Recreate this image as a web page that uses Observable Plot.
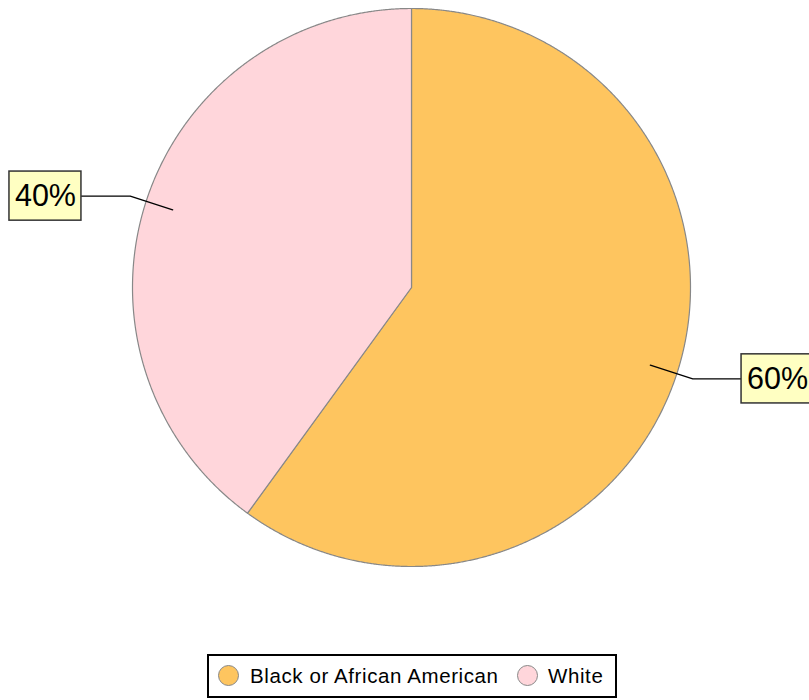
<!DOCTYPE html>
<html><head><meta charset="utf-8">
<script src="https://cdn.jsdelivr.net/npm/d3@7"></script>
<script src="https://cdn.jsdelivr.net/npm/@observablehq/plot@0.6"></script>
<style>
html,body{margin:0;padding:0;background:#fff;overflow:hidden;font-family:"Liberation Sans",Arial,sans-serif;}
#chart{position:absolute;left:0;top:0;}
#legend{position:absolute;left:207px;top:654px;width:406px;height:40px;border:2px solid #000;box-sizing:content-box;}
.sw{position:absolute;top:9px;width:21px;height:21px;border-radius:50%;border:1px solid #888;box-sizing:border-box;}
.lb{position:absolute;top:8px;font-size:20.5px;letter-spacing:0.6px;line-height:24px;color:#000;white-space:nowrap;}
</style></head><body><div id="chart"></div><div id="legend"></div>
<script>
const categories = ["Black or African American", "White"];
const values = [60, 40];
const colors = ["#FEC55F", "#FFD6DB"];
const labels = ["60%", "40%"];

const W = 809, H = 645, CX = 411, CY = 287, R = 279;
const arcs = d3.pie().sort(null).value(d => d)(values);

const slicePts = [];
arcs.forEach((a, i) => {
  const cat = categories[i];
  slicePts.push({x: 0, y: 0, cat});
  const n = Math.ceil((a.endAngle - a.startAngle) / 0.004);
  for (let k = 0; k <= n; k++) {
    const t = a.startAngle + (a.endAngle - a.startAngle) * k / n;
    slicePts.push({x: Math.sin(t), y: Math.cos(t), cat});
  }
  slicePts.push({x: 0, y: 0, cat});
});

const leaderPts = [], boxes = [];
arcs.forEach((a, i) => {
  const m = (a.startAngle + a.endAngle) / 2;
  const s = Math.sin(m), c = Math.cos(m), sg = Math.sign(s);
  const ey = 1.06 * c;
  leaderPts.push({x: 0.9 * s, y: 0.9 * c, k: i});
  leaderPts.push({x: 1.06 * s, y: ey, k: i});
  leaderPts.push({x: sg * 1.183, y: ey, k: i});
  const xn = sg * 1.183, xf = sg * 1.441;
  boxes.push({x1: Math.min(xn, xf), x2: Math.max(xn, xf), y1: ey - 0.088, y2: ey + 0.088, tx: (xn + xf) / 2, ty: ey, label: labels[i]});
});

const chart = Plot.plot({
  width: W, height: H, margin: 0,
  x: {axis: null, domain: [-CX / R, (W - CX) / R]},
  y: {axis: null, domain: [-(H - CY) / R, CY / R]},
  color: {domain: categories, range: colors},
  style: {background: "transparent", overflow: "visible"},
  marks: [
    Plot.line(slicePts, {x: "x", y: "y", z: "cat", fill: "cat", stroke: "#888", strokeWidth: 1.2, curve: "linear"}),
    Plot.line(leaderPts, {x: "x", y: "y", z: "k", stroke: "#000", strokeWidth: 1.3}),
    Plot.rect(boxes, {x1: "x1", x2: "x2", y1: "y1", y2: "y2", fill: "#FFFFC2", stroke: "#333", strokeWidth: 1.5}),
    Plot.text(boxes, {x: "tx", y: "ty", text: "label", fontSize: 30.5, fill: "#000", fontFamily: "Liberation Sans, Arial, sans-serif", textAnchor: "middle"})
  ]
});
document.getElementById("chart").appendChild(chart);

const legend = document.getElementById("legend");
const swLeft = [9, 308], lbLeft = [41, 339];
categories.forEach((c, i) => {
  const sw = document.createElement("div");
  sw.className = "sw"; sw.style.left = swLeft[i] + "px"; sw.style.background = colors[i];
  legend.appendChild(sw);
  const lb = document.createElement("div");
  lb.className = "lb"; lb.style.left = lbLeft[i] + "px"; lb.textContent = c;
  legend.appendChild(lb);
});
</script>
</body></html>
